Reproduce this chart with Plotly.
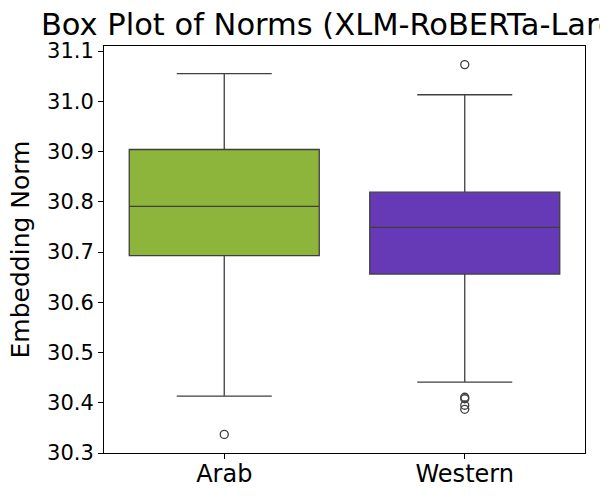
import plotly.graph_objects as go

categories = ["Arab", "Western"]
q1 = [30.693, 30.656]
median = [30.791, 30.749]
q3 = [30.904, 30.819]
lower_whisker = [30.413, 30.441]
upper_whisker = [31.055, 31.013]
outliers = {
    "Arab": [30.337],
    "Western": [31.073, 30.411, 30.408, 30.395, 30.387],
}
colors = ["#8db43b", "#6639b6"]
y_ticks = [30.3, 30.4, 30.5, 30.6, 30.7, 30.8, 30.9, 31.0, 31.1]

line_col = "#3f3f3f"
font = "DejaVu Sans"

fig = go.Figure()
for i, cat in enumerate(categories):
    fig.add_trace(go.Box(
        x=[cat], q1=[q1[i]], median=[median[i]], q3=[q3[i]],
        lowerfence=[lower_whisker[i]], upperfence=[upper_whisker[i]],
        fillcolor=colors[i], line=dict(color=line_col, width=1.3),
        width=0.79, whiskerwidth=0.5, boxpoints=False, showlegend=False,
        hoverinfo="skip",
    ))
    fig.add_trace(go.Scatter(
        x=[cat] * len(outliers[cat]), y=outliers[cat], mode="markers",
        marker=dict(symbol="circle-open", size=8, color=line_col,
                    line=dict(width=1.3, color=line_col)),
        showlegend=False, hoverinfo="skip",
    ))

fig.update_layout(
    width=600, height=500,
    margin=dict(l=104, r=15, t=46, b=44),
    paper_bgcolor="white", plot_bgcolor="white",
    font=dict(family=font, size=21, color="black"),
    title=dict(text="Box Plot of Norms (XLM-RoBERTa-Large)", x=0.5, xref="paper",
               xanchor="center", y=1 - 24 / 500, yref="container", yanchor="middle",
               font=dict(family=font, size=30.5, color="black")),
)
fig.update_xaxes(
    type="category", categoryorder="array", categoryarray=categories,
    range=[-0.5, 1.5], showgrid=False, zeroline=False,
    showline=True, mirror=True, linecolor="black", linewidth=1,
    ticks="outside", ticklen=5, tickcolor="black", ticklabelstandoff=-6,
    tickfont=dict(family=font, size=24, color="black"),
)
fig.update_yaxes(
    range=[30.3, 31.11], tickvals=y_ticks, ticktext=[f"{v:.1f}" for v in y_ticks],
    showgrid=False, zeroline=False,
    showline=True, mirror=True, linecolor="black", linewidth=1,
    ticks="outside", ticklen=5, tickcolor="black",
    tickfont=dict(family=font, size=21, color="black"),
    title=dict(text="Embedding Norm", font=dict(family=font, size=25, color="black"), standoff=10),
)

fig.write_html("out.html", config={"displayModeBar": False},
               post_script="document.body.style.margin='0';")
